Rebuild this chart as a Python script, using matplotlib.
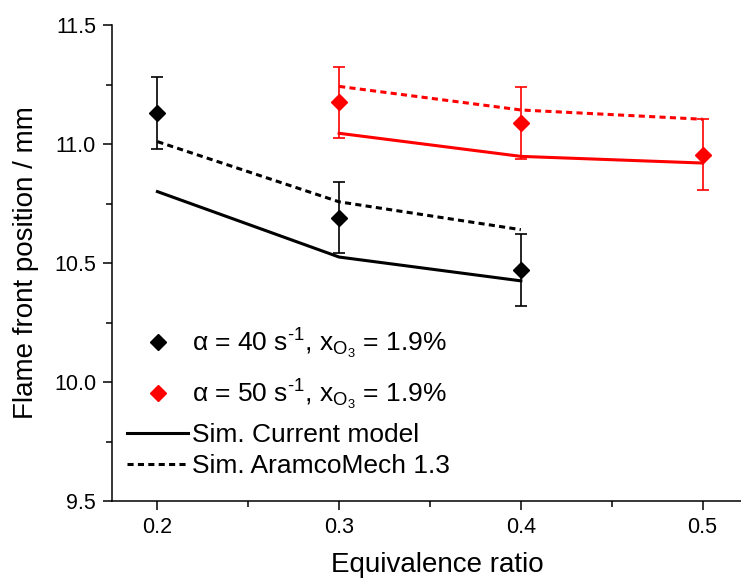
import matplotlib
matplotlib.use('Agg')
import matplotlib.pyplot as plt
from matplotlib.ticker import MultipleLocator
from matplotlib.lines import Line2D

plt.rcParams['font.family'] = ['Liberation Sans', 'DejaVu Sans']
plt.rcParams['mathtext.fontset'] = 'custom'
plt.rcParams['mathtext.rm'] = 'Liberation Sans'
plt.rcParams['mathtext.it'] = 'Liberation Sans:italic'
plt.rcParams['mathtext.bf'] = 'Liberation Sans:bold'

# ---- data ----
phi_40 = [0.2, 0.3, 0.4]
exp_40 = [11.13, 10.69, 10.47]
err_40 = [0.15, 0.15, 0.15]
sim_cur_40 = [10.80, 10.525, 10.425]
sim_aramco_40 = [11.01, 10.757, 10.64]

phi_50 = [0.3, 0.4, 0.5]
exp_50 = [11.175, 11.088, 10.955]
err_50 = [0.15, 0.15, 0.15]
sim_cur_50 = [11.045, 10.948, 10.92]
sim_aramco_50 = [11.242, 11.143, 11.104]

labels_exp = [r'α = 40 s$^{\text{-1}}$, x$_{\mathrm{O}_{3}}$ = 1.9%',
              r'α = 50 s$^{\text{-1}}$, x$_{\mathrm{O}_{3}}$ = 1.9%']
labels_sim = ['Sim. Current model', 'Sim. AramcoMech 1.3']
xticks = [0.2, 0.3, 0.4, 0.5]
yticks = [9.5, 10.0, 10.5, 11.0, 11.5]

fig = plt.figure(figsize=(7.41, 5.81), dpi=100)
ax = fig.add_axes([112/741, 80/581, 636/741, 476/581])

lw = 2.2
dash = (0, (2.0, 1.4))
for phi, cur, ara, exp, err, c in [
        (phi_40, sim_cur_40, sim_aramco_40, exp_40, err_40, 'black'),
        (phi_50, sim_cur_50, sim_aramco_50, exp_50, err_50, '#ff0000')]:
    ax.plot(phi, cur, color=c, lw=lw, zorder=2)
    ax.plot(phi, ara, color=c, lw=lw, ls=dash, zorder=2)
    ax.errorbar(phi, exp, yerr=err, fmt='none', ecolor=c, elinewidth=1.2,
                capsize=4.5, capthick=1.2, zorder=3)

m40, = ax.plot(phi_40, exp_40, 'D', color='black', ms=7.8, zorder=4)
m50, = ax.plot(phi_50, exp_50, 'D', color='#ff0000', ms=7.8, zorder=4)

h_cur = Line2D([], [], color='black', lw=lw)
h_ara = Line2D([], [], color='black', lw=lw, ls=dash)

leg1 = ax.legend([m40, m50], labels_exp, loc='upper left',
                 bbox_to_anchor=(0.024, 0.366), frameon=False, fontsize=19,
                 handlelength=2.3, handletextpad=0.15, labelspacing=0.63,
                 borderpad=0, borderaxespad=0, numpoints=1)
ax.add_artist(leg1)
ax.legend([h_cur, h_ara], labels_sim, loc='upper left',
          bbox_to_anchor=(0.024, 0.163), frameon=False, fontsize=19,
          handlelength=2.3, handletextpad=0.15, labelspacing=0.25,
          borderpad=0, borderaxespad=0)

ax.set_xlim(0.175, 0.525)
ax.set_ylim(9.5, 11.5)
ax.set_xticks(xticks)
ax.set_xticklabels([f'{v:.1f}' for v in xticks])
ax.set_yticks(yticks)
ax.set_yticklabels([f'{v:.1f}' for v in yticks])
ax.xaxis.set_minor_locator(MultipleLocator(0.05))
ax.yaxis.set_minor_locator(MultipleLocator(0.25))

for s in ['top', 'right']:
    ax.spines[s].set_visible(False)
for s in ['left', 'bottom']:
    ax.spines[s].set_linewidth(1.1)

ax.tick_params(which='major', direction='out', length=6.5, width=1.1,
               labelsize=15.5, pad=5)
ax.tick_params(which='minor', direction='out', length=4, width=1.1)

ax.set_xlabel('Equivalence ratio', fontsize=20)
ax.set_ylabel('Flame front position / mm', fontsize=20)
ax.xaxis.set_label_coords(0.511, -0.108)
ax.yaxis.set_label_coords(-0.114, 0.5)

fig.savefig('out.png', dpi=100)
